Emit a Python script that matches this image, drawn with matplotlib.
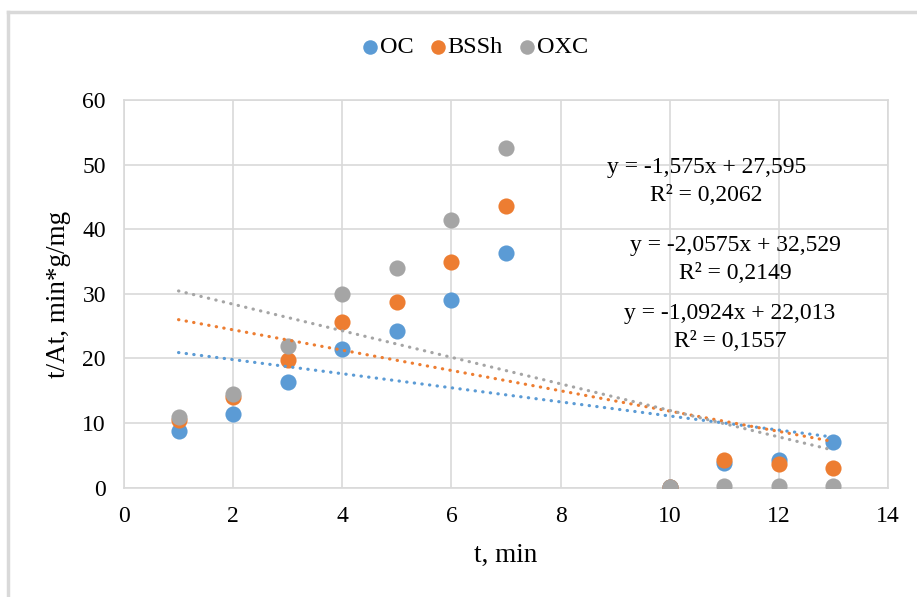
import numpy as np
import matplotlib.pyplot as plt

plt.rcParams['font.family'] = ['Liberation Serif', 'DejaVu Serif']

series_names = ["OC", "BSSh", "OXC"]
colors = ["#5B9BD5", "#ED7D31", "#A5A5A5"]

t_min = [1, 2, 3, 4, 5, 6, 7, 10, 11, 12, 13]
oc = [8.8, 11.4, 16.3, 21.4, 24.2, 29.0, 36.3, 0.1, 3.8, 4.3, 7.0]
bssh = [10.5, 14.0, 19.7, 25.6, 28.8, 34.9, 43.6, 0.1, 4.2, 3.6, 3.1]
oxc = [10.9, 14.5, 21.9, 30.0, 34.1, 41.5, 52.7, 0.1, 0.2, 0.2, 0.2]

# trendline coefficients (slope, intercept) as printed on the chart
slopes = [-1.0924, -1.575, -2.0575]
intercepts = [22.013, 27.595, 32.529]
r2_labels = ["R² = 0,1557", "R² = 0,2062", "R² = 0,2149"]
eq_labels = ["y = -1,0924x + 22,013", "y = -1,575x + 27,595", "y = -2,0575x + 32,529"]
# label anchors in data coords (centre of equation line)
eq_pos = [(11.1, 27.0), (10.67, 49.6), (11.21, 37.55)]

x_ticks = [0, 2, 4, 6, 8, 10, 12, 14]
y_ticks = [0, 10, 20, 30, 40, 50, 60]

fig = plt.figure(figsize=(9.17, 5.97), dpi=100)
ax = fig.add_axes([0.1352, 0.1834, 0.8332, 0.6483])

grid_c = "#d9d9d9"
all_y = [oc, bssh, oxc]
for name, ys, c in zip(series_names, all_y, colors):
    ax.scatter(t_min, ys, s=135, color=c, label=name, zorder=3, linewidths=0)

xs = np.array([1, 13])
for k, b, c in zip(slopes, intercepts, colors):
    ax.plot(xs, k * xs + b, color=c, lw=2.3, linestyle=(0, (0.1, 2.3)),
            dash_capstyle='round', solid_capstyle='round', zorder=4)

for (ex, ey), eq, r2 in zip(eq_pos, eq_labels, r2_labels):
    ax.text(ex, ey, eq, ha='center', va='center', fontsize=17, zorder=5)
    ax.text(ex, ey - 4.3, r2, ha='center', va='center', fontsize=17, zorder=5)

ax.set_xlim(0, 14)
ax.set_ylim(0, 60)
ax.set_xticks(x_ticks)
ax.set_yticks(y_ticks)
ax.tick_params(length=0, labelsize=17)
ax.tick_params(axis='x', pad=13)
ax.tick_params(axis='y', pad=13)
ax.grid(True, color=grid_c, lw=1.2)
ax.set_axisbelow(True)
for sp in ax.spines.values():
    sp.set_color(grid_c)
    sp.set_linewidth(1.2)

ax.set_xlabel("t, min", fontsize=19.5, labelpad=12)
ax.set_ylabel("t/At, min*g/mg", fontsize=19.5, labelpad=8)

leg = fig.legend(loc='center', bbox_to_anchor=(0.517, 0.921), ncol=3, frameon=False,
                 fontsize=17.5, handletextpad=0.0, handlelength=0.8,
                 columnspacing=0.6, markerscale=0.9)

# outer chart border (left and top edges visible)
fig.add_artist(plt.Line2D([8 / 917, 8 / 917], [0, 1 - 12 / 597], color=grid_c, lw=2.5))
fig.add_artist(plt.Line2D([8 / 917, 1], [1 - 12 / 597, 1 - 12 / 597], color=grid_c, lw=2.5))

fig.savefig("out.png", dpi=100)
